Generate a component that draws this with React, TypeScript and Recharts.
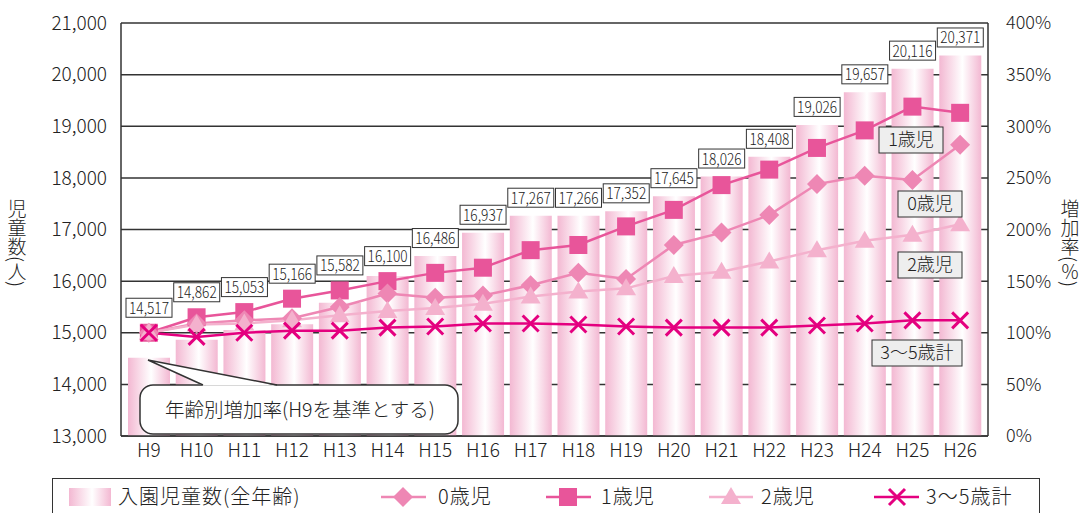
import React from "react";
import {
  ComposedChart,
  Bar,
  Line,
  XAxis,
  YAxis,
  CartesianGrid,
  LabelList,
} from "recharts";

const FONT = '"Noto Sans CJK JP", "Noto Sans", sans-serif';
const W = 300;

const years = ["H9", "H10", "H11", "H12", "H13", "H14", "H15", "H16", "H17", "H18", "H19", "H20", "H21", "H22", "H23", "H24", "H25", "H26"];
const enrolled = [14517, 14862, 15053, 15166, 15582, 16100, 16486, 16937, 17267, 17266, 17352, 17645, 18026, 18408, 19026, 19657, 20116, 20371];
const age0 = [100, 109, 112, 114, 125, 138, 134, 136, 146, 158, 152, 185, 197, 214, 244, 252, 248, 282];
const age1 = [100, 115, 120, 133, 141, 150, 158, 163, 180, 185, 203, 219, 243, 258, 279, 296, 319, 313];
const age2 = [100, 108, 109, 112, 117, 121, 124, 128, 135, 140, 143, 155, 159, 169, 180, 189, 195, 205];
const age3to5 = [100, 96, 100, 102, 102, 105, 106, 109, 109, 108, 106, 105, 105, 105, 107, 109, 112, 112];

const countTicks = [13000, 14000, 15000, 16000, 17000, 18000, 19000, 20000, 21000];
const rateTicks = [0, 50, 100, 150, 200, 250, 300, 350, 400];

const C0 = "#ee87b4";
const C1 = "#e8559a";
const C2 = "#f4b1cd";
const C35 = "#e4007f";

const data = years.map((year, i) => ({
  year,
  enrolled: enrolled[i],
  age0: age0[i],
  age1: age1[i],
  age2: age2[i],
  age3to5: age3to5[i],
}));

const diamondDot = (p: any) =>
  p.cx == null ? null : (
    <path key={`d${p.index}`} d={`M${p.cx},${p.cy - 10} L${p.cx + 10},${p.cy} L${p.cx},${p.cy + 10} L${p.cx - 10},${p.cy} Z`} fill={C0} />
  );
const squareDot = (p: any) =>
  p.cx == null ? null : (
    <rect key={`s${p.index}`} x={p.cx - 9} y={p.cy - 9} width={18} height={18} fill={C1} />
  );
const triangleDot = (p: any) =>
  p.cx == null ? null : (
    <path key={`t${p.index}`} d={`M${p.cx},${p.cy - 10} L${p.cx + 10},${p.cy + 7} L${p.cx - 10},${p.cy + 7} Z`} fill={C2} />
  );
const crossDot = (p: any) =>
  p.cx == null ? null : (
    <path key={`x${p.index}`} d={`M${p.cx - 8},${p.cy - 8} L${p.cx + 8},${p.cy + 8} M${p.cx + 8},${p.cy - 8} L${p.cx - 8},${p.cy + 8}`} stroke={C35} strokeWidth={3} fill="none" />
  );

// value box above each bar, lifted over the 1歳児 line where they would collide
const BarValueLabel = (props: any) => {
  const vb = props.viewBox ?? {};
  const x = props.x ?? vb.x;
  const y = props.y ?? vb.y;
  const w = props.width ?? vb.width;
  const h = props.height ?? vb.height;
  const i = props.index;
  if (x == null || i == null) return null;
  const val = enrolled[i];
  const bottom = y + h;
  const pxPerUnit = h / (val - countTicks[0]);
  const plotH = (countTicks[countTicks.length - 1] - countTicks[0]) * pxPerUnit;
  const lineY = bottom - (age1[i] / rateTicks[rateTicks.length - 1]) * plotH;
  const cy = Math.min(y - 18, lineY - 25);
  const cx = x + w / 2;
  return (
    <g>
      <rect x={cx - 23} y={cy - 9.5} width={46} height={19} fill="#fff" stroke="#333" strokeWidth={1} />
      <text x={cx} y={cy + 6} textAnchor="middle" fontSize={16} fontWeight={W} fontFamily={FONT} fill="#222" textLength={40} lengthAdjust="spacingAndGlyphs">
        {val.toLocaleString("en-US")}
      </text>
    </g>
  );
};

const NameBox = ({ x, y, w, label }: { x: number; y: number; w: number; label: string }) => (
  <g>
    <rect x={x} y={y} width={w} height={26} fill="#eeeeee" stroke="#333" strokeWidth={1} />
    <text x={x + w / 2} y={y + 19} textAnchor="middle" fontSize={18} fontWeight={W} fontFamily={FONT} fill="#222">
      {label}
    </text>
  </g>
);

const legendText = { fontSize: 20, fontWeight: W, fontFamily: FONT, fill: "#222", letterSpacing: 1 };

const Legend = () => (
  <div
    style={{
      position: "absolute",
      left: 52,
      top: 478,
      width: 988,
      height: 45,
      border: "1px solid #333",
      boxSizing: "border-box",
    }}
  >
    <svg width={988} height={45} style={{ position: "absolute", left: 0, top: 0 }}>
      <defs>
        <linearGradient id="legGrad" x1="0" y1="0" x2="1" y2="0">
          <stop offset="0" stopColor="#f3b8d2" />
          <stop offset="0.55" stopColor="#ffffff" />
          <stop offset="1" stopColor="#f3b8d2" />
        </linearGradient>
      </defs>
      <rect x={16} y={9} width={42} height={18} fill="url(#legGrad)" />
      <text x={65} y={25} {...legendText}>入園児童数(全年齢)</text>

      <line x1={328} y1={18} x2={373} y2={18} stroke={C0} strokeWidth={2.5} />
      <path d="M350,8 L360,18 L350,28 L340,18 Z" fill={C0} />
      <text x={385} y={25} {...legendText}>0歳児</text>

      <line x1={493} y1={18} x2={538} y2={18} stroke={C1} strokeWidth={2.5} />
      <rect x={506} y={9} width={18} height={18} fill={C1} />
      <text x={548} y={25} {...legendText}>1歳児</text>

      <line x1={656} y1={18} x2={700} y2={18} stroke={C2} strokeWidth={2.5} />
      <path d="M678,8 L688,25 L668,25 Z" fill={C2} />
      <text x={708} y={25} {...legendText}>2歳児</text>

      <line x1={821} y1={18} x2={866} y2={18} stroke={C35} strokeWidth={2.5} />
      <path d="M836,10 L852,26 M852,10 L836,26" stroke={C35} strokeWidth={3} />
      <text x={873} y={25} {...legendText}>3〜5歳計</text>
    </svg>
  </div>
);

export default function App() {
  return (
    <div style={{ position: "absolute", left: 0, top: 0, width: 1084, height: 513, overflow: "hidden", background: "#fff" }}>
      <ComposedChart
        width={1084}
        height={513}
        data={data}
        margin={{ top: 23, right: 0, bottom: 47, left: 0 }}
        barSize={42}
      >
        <defs>
          <linearGradient id="barGrad" x1="0" y1="0" x2="1" y2="0">
            <stop offset="0" stopColor="#f3b8d2" />
            <stop offset="0.55" stopColor="#ffffff" />
            <stop offset="1" stopColor="#f3b8d2" />
          </linearGradient>
        </defs>
        <CartesianGrid yAxisId="count" vertical={false} stroke="#333" strokeWidth={1.5} />
        <XAxis
          dataKey="year"
          height={30}
          padding={{ left: 4, right: 4 }}
          tickLine={false}
          axisLine={{ stroke: "#333", strokeWidth: 1.5 }}
          tick={{ fontSize: 19, fontWeight: W, fontFamily: FONT, fill: "#222" }}
          interval={0}
        />
        <YAxis
          yAxisId="count"
          width={121}
          domain={[13000, 21000]}
          ticks={countTicks}
          tickFormatter={(v: number) => v.toLocaleString("en-US")}
          tickLine={false}
          axisLine={{ stroke: "#333", strokeWidth: 1.5 }}
          tickMargin={8}
          tick={{ fontSize: 19, fontWeight: W, fontFamily: FONT, fill: "#222" }}
        />
        <YAxis
          yAxisId="rate"
          orientation="right"
          width={96}
          domain={[0, 400]}
          ticks={rateTicks}
          tickFormatter={(v: number) => `${v}%`}
          tickLine={false}
          axisLine={{ stroke: "#333", strokeWidth: 1.5 }}
          tickMargin={12}
          tick={{ fontSize: 18, fontWeight: W, fontFamily: FONT, fill: "#222" }}
        />
        <Bar yAxisId="count" dataKey="enrolled" fill="url(#barGrad)" isAnimationActive={false}>
          <LabelList dataKey="enrolled" content={BarValueLabel} />
        </Bar>
        <Line yAxisId="rate" dataKey="age1" stroke={C1} strokeWidth={2.5} dot={squareDot} activeDot={false} isAnimationActive={false} />
        <Line yAxisId="rate" dataKey="age0" stroke={C0} strokeWidth={2.5} dot={diamondDot} activeDot={false} isAnimationActive={false} />
        <Line yAxisId="rate" dataKey="age2" stroke={C2} strokeWidth={2.5} dot={triangleDot} activeDot={false} isAnimationActive={false} />
        <Line yAxisId="rate" dataKey="age3to5" stroke={C35} strokeWidth={2.5} dot={crossDot} activeDot={false} isAnimationActive={false} />
      </ComposedChart>

      <svg width={1084} height={513} style={{ position: "absolute", left: 0, top: 0, pointerEvents: "none" }}>
        <text x={17} y={243} textAnchor="middle" fontSize={19} fontWeight={W} fontFamily={FONT} fill="#222" style={{ writingMode: "vertical-rl" }}>
          児童数(人)
        </text>
        <text x={1070} y={243} textAnchor="middle" fontSize={19} fontWeight={W} fontFamily={FONT} fill="#222" style={{ writingMode: "vertical-rl" }}>
          増加率(％)
        </text>

        <rect x={140} y={385} width={318} height={49} rx={13} ry={13} fill="#fff" stroke="#333" strokeWidth={1.5} />
        <path d="M203,385.8 L148,360 L277,385.8 Z" fill="#fff" stroke="none" />
        <path d="M203,385 L148,360 L277,385" fill="none" stroke="#333" strokeWidth={1.5} />
        <text x={300} y={417} textAnchor="middle" fontSize={19.5} fontWeight={W} fontFamily={FONT} fill="#222">
          年齢別増加率(H9を基準とする)
        </text>

        <NameBox x={879} y={127} w={64} label="1歳児" />
        <NameBox x={898} y={191} w={64} label="0歳児" />
        <NameBox x={898} y={252} w={64} label="2歳児" />
        <NameBox x={872} y={340} w={90} label="3〜5歳計" />
      </svg>

      <Legend />
    </div>
  );
}
